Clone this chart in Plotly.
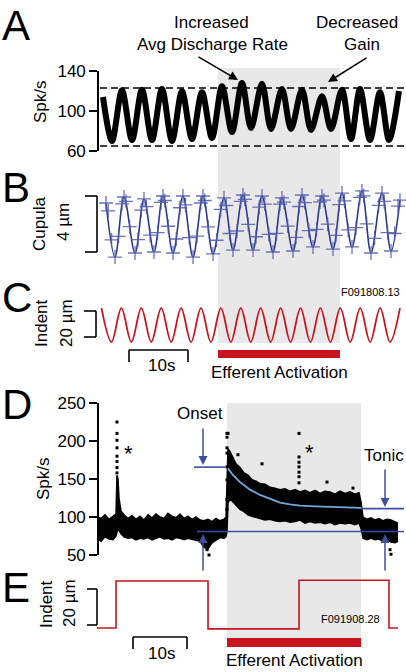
import plotly.graph_objects as go

W, H = 406, 672
FONT = "Liberation Sans, Arial, Helvetica, sans-serif"

# ---------------- data ----------------
# Panel A: discharge rate (Spk/s), peaks & troughs of the sinusoidal response
a_t = [0.25, 1.78, 3.47, 5.17, 6.86, 8.56, 10.25, 11.95, 13.64, 15.34, 17.03, 18.73,
       20.42, 22.12, 23.81, 25.34, 27.20, 28.73, 30.59, 32.12, 33.98, 35.51, 37.37,
       38.90, 40.76, 42.29, 43.81, 45.51, 47.20, 48.73, 50.42]
a_rate = [114, 70, 120.7, 71, 121.3, 71, 122, 70, 119.7, 72, 118.7, 73,
          124.7, 79, 128, 83, 127.3, 82, 122, 82, 121.3, 81, 114.7,
          82, 121.3, 72, 122, 71, 118.7, 71, 120]
a_ref_lines = [123, 65]

# Panel B: cupula displacement (µm) — turning points of the fitted trace
b_t = [0.76, 2.29, 3.81, 5.68, 7.20, 8.90, 10.42, 12.12, 13.81, 15.51, 17.20, 18.90,
       20.76, 22.29, 23.98, 25.68, 27.20, 29.07, 30.59, 32.46, 33.98, 35.85, 37.37,
       39.24, 40.76, 42.46, 44.15, 45.68, 47.54, 49.07, 50.59]
b_um = [3.5, -0.36, 3.93, -0.07, 3.79, 0.0, 4.0, -0.07, 4.0, -0.36, 4.0, -0.14,
        3.86, 0.14, 4.07, 0.14, 4.0, 0.0, 3.86, 0.07, 4.07, 0.36, 4.0,
        0.21, 4.21, 0.36, 4.36, -0.07, 4.21, 0.07, 3.7]
# Panel B: sampled cupula points on the flanks (+ markers)
b_s_t = [1.14, 1.71, 2.90, 3.48, 4.15, 4.78, 6.18, 6.74, 7.63, 8.25, 9.51, 10.09,
         10.73, 11.30, 12.68, 13.30, 14.24, 14.86, 16.19, 16.83, 17.51, 18.08, 19.51, 20.20,
         21.14, 21.71, 22.97, 23.61, 24.29, 24.86, 26.18, 26.74, 27.67, 28.36, 29.68, 30.26,
         30.93, 31.56, 32.96, 33.52, 34.45, 35.14, 36.46, 37.04, 37.71, 38.34, 39.74, 40.30,
         41.19, 41.81, 43.14, 43.78, 44.43, 44.95, 46.29, 46.98, 47.92, 48.49, 49.68, 50.26]
b_s_um = [2.94, 0.86, 1.12, 3.44, 3.62, 1.81, 0.88, 2.99, 3.24, 1.20, 1.38, 3.54,
          3.68, 1.84, 0.93, 3.16, 3.36, 1.02, 1.14, 3.50, 3.68, 1.80, 0.84, 3.04,
          3.32, 1.32, 1.50, 3.62, 3.76, 1.98, 1.09, 3.20, 3.42, 1.26, 1.33, 3.42,
          3.56, 1.85, 1.05, 3.25, 3.53, 1.53, 1.62, 3.58, 3.70, 1.99, 1.19, 3.39,
          3.65, 1.58, 1.74, 3.90, 4.01, 2.01, 0.98, 3.33, 3.61, 1.38, 1.32, 3.28]

# Panel C: sinusoidal indentation (µm)
c_t = [0, 1.69, 3.37, 5.06, 6.75, 8.43, 10.12, 11.81, 13.49, 15.18, 16.86, 18.55,
       20.24, 21.92, 23.61, 25.30, 26.98, 28.67, 30.36, 32.04, 33.73, 35.41, 37.10,
       38.79, 40.47, 42.16, 43.85, 45.53, 47.22, 48.90, 50.59]
c_um = [26, 0, 26, 0, 26, 0, 26, 0, 26, 0, 26, 0, 26, 0, 26, 0, 26, 0, 26, 0,
        26, 0, 26, 0, 26, 0, 26, 0, 26, 0, 26]

# Efferent activation periods (s)
eff_top = [19.75, 40.42]
eff_bot = [24.07, 48.89]

# Panel D: discharge rate envelope (upper / lower edge of the dot cloud)
d_t = [0.00, 0.74, 1.48, 2.22, 2.96, 3.52, 3.70, 3.89, 4.07, 4.44, 5.00, 5.74, 6.48,
       7.22, 7.96, 8.70, 9.44, 10.19, 10.93, 11.67, 12.41, 13.15, 13.89, 14.63,
       15.37, 16.11, 16.85, 17.59, 18.33, 19.07, 19.81, 20.56, 21.30, 22.04, 22.78,
       23.52, 23.89, 24.07, 24.26, 24.63, 25.19, 25.74, 26.48, 27.22, 27.96, 28.70,
       29.44, 30.19, 31.11, 32.04, 32.96, 33.89, 34.81, 35.74, 36.67, 37.59, 38.52,
       39.44, 40.37, 41.30, 42.22, 43.15, 44.07, 45.00, 45.93, 46.85, 47.78, 48.52,
       48.89, 49.26, 50.00, 50.74, 51.48, 52.22, 52.96, 53.70, 54.44, 55.19, 55.74]
d_upper = [100, 98, 103, 97, 101, 104, 155, 150, 125, 108, 103, 98, 102,
           97, 101, 96, 103, 99, 104, 100, 98, 105, 101, 99,
           104, 98, 101, 97, 100, 96, 95, 97, 94, 98, 95,
           97, 100, 150, 190, 186, 178, 170, 165, 158, 155, 149,
           147, 144, 143, 139, 138, 136, 137, 134, 136, 133, 135,
           132, 135, 131, 134, 133, 130, 134, 131, 133, 130, 132,
           120, 100, 97, 99, 96, 98, 95, 97, 96, 94, 92]
d_lower = [72, 68, 74, 71, 70, 75, 80, 85, 82, 78, 74, 72, 73,
           70, 72, 71, 73, 70, 72, 74, 71, 72, 70, 73,
           72, 70, 72, 71, 70, 68, 60, 58, 66, 70, 73,
           72, 74, 80, 118, 124, 120, 115, 110, 107, 103, 101,
           99, 98, 96, 97, 95, 94, 95, 93, 94, 96, 92,
           94, 92, 93, 91, 93, 90, 92, 91, 92, 90, 92,
           85, 72, 70, 72, 70, 71, 68, 70, 67, 66, 68]
# isolated dots outside the cloud
d_dot_t = [3.70, 3.70, 3.70, 3.70, 3.70, 3.70, 3.70, 3.70,
           24.07, 24.07, 24.07, 24.07, 24.07, 24.07, 24.07, 24.07, 24.26,
           37.41, 37.41, 37.41, 37.41, 37.41, 37.41, 37.41,
           26.11, 30.56, 42.59, 47.41, 20.37, 20.74, 54.26, 54.44]
d_dot_rate = [225, 210, 201, 191, 180, 173, 165, 158,
              210, 205, 191, 184, 166, 149, 123, 110, 210,
              210, 179, 172, 166, 159, 153, 145,
              182, 170, 146, 138, 57, 50, 57, 51]
# exponential fit
fit_t = [24.26, 25.19, 26.48, 28.33, 30.19, 32.04, 33.89, 35.74, 37.59, 40.37, 43.15, 45.93, 48.89]
fit_rate = [164, 155, 146, 136, 129, 124, 119, 116.5, 115, 114, 113.5, 112.8, 112]
onset_rate, tonic_rate, base_rate = 165.6, 111, 81

# Panel E: step indentation (µm)
e_t = [0.00, 3.52, 20.56, 37.41, 54.07, 55.74]
e_um = [0, 26.1, -0.5, 26.5, 0, 0]

a_ticks = [60, 100, 140]
d_ticks = [50, 100, 150, 200, 250]

# ---------------- helpers ----------------
def px(x):
    return x / W

def py(y):
    return 1 - y / H

GRAY = "#e8e8e8"
RED = "#c8141e"
BLUE = "#3f4d9e"
NAVY = "#2b3990"

fig = go.Figure()

fig.add_trace(go.Scatter(x=a_t, y=a_rate, mode="lines", xaxis="x", yaxis="y",
                         line=dict(color="black", width=6, shape="spline", smoothing=0.9),
                         hoverinfo="skip"))
fig.add_trace(go.Scatter(x=b_t, y=b_um, mode="lines+markers", xaxis="x", yaxis="y2",
                         line=dict(color=NAVY, width=1.6, shape="spline"),
                         marker=dict(symbol="cross-thin", size=10,
                                     line=dict(color="rgba(80,92,170,0.85)", width=1.3)),
                         hoverinfo="skip"))
fig.add_trace(go.Scatter(x=b_s_t, y=b_s_um, mode="markers", xaxis="x", yaxis="y2",
                         marker=dict(symbol="cross-thin", size=10,
                                     line=dict(color="rgba(80,92,170,0.85)", width=1.3)),
                         hoverinfo="skip"))
fig.add_trace(go.Scatter(x=c_t, y=c_um, mode="lines", xaxis="x", yaxis="y3",
                         line=dict(color=RED, width=1.8, shape="spline"),
                         hoverinfo="skip"))
fig.add_trace(go.Scatter(x=d_t, y=d_upper, mode="lines", xaxis="x2", yaxis="y4",
                         line=dict(color="black", width=1.5), hoverinfo="skip"))
fig.add_trace(go.Scatter(x=d_t, y=d_lower, mode="lines", xaxis="x2", yaxis="y4",
                         fill="tonexty", fillcolor="black",
                         line=dict(color="black", width=1.5), hoverinfo="skip"))
fig.add_trace(go.Scatter(x=d_dot_t, y=d_dot_rate, mode="markers", xaxis="x2", yaxis="y4",
                         marker=dict(symbol="square", size=3, color="black"),
                         cliponaxis=False, hoverinfo="skip"))
fig.add_trace(go.Scatter(x=fit_t, y=fit_rate, mode="lines", xaxis="x2", yaxis="y4",
                         line=dict(color="#6fa8dc", width=1.8), hoverinfo="skip"))
fig.add_trace(go.Scatter(x=e_t, y=e_um, mode="lines", xaxis="x2", yaxis="y5",
                         line=dict(color=RED, width=1.6, shape="hv"), hoverinfo="skip"))

shapes = []
# shaded efferent periods
shapes.append(dict(type="rect", xref="x", yref="paper", x0=eff_top[0], x1=eff_top[1],
                   y0=py(343), y1=py(68), fillcolor=GRAY, line=dict(width=0), layer="below"))
shapes.append(dict(type="rect", xref="x2", yref="paper", x0=eff_bot[0], x1=eff_bot[1],
                   y0=py(638), y1=py(403), fillcolor=GRAY, line=dict(width=0), layer="below"))
# red efferent bars
shapes.append(dict(type="rect", xref="x", yref="paper", x0=eff_top[0], x1=eff_top[1],
                   y0=py(358), y1=py(350), fillcolor=RED, line=dict(width=0)))
shapes.append(dict(type="rect", xref="x2", yref="paper", x0=eff_bot[0], x1=eff_bot[1],
                   y0=py(647), y1=py(638), fillcolor=RED, line=dict(width=0)))
# dashed reference lines in A
for v in a_ref_lines:
    shapes.append(dict(type="line", xref="paper", yref="y", x0=px(100), x1=px(404), y0=v, y1=v,
                       line=dict(color="black", width=1.5, dash="7px,4px")))

def seg(x0, y0, x1, y1, color="black", width=1.6):
    shapes.append(dict(type="line", xref="paper", yref="paper", x0=px(x0), y0=py(y0),
                       x1=px(x1), y1=py(y1), line=dict(color=color, width=width)))

def bracket(x, ytop, ybot, xl):
    seg(x, ytop, x, ybot)
    seg(xl, ytop, x, ytop)
    seg(xl, ybot, x, ybot)

bracket(97, 196, 252, 85)   # B 4 µm
bracket(96, 311, 337, 84)   # C 20 µm
bracket(97, 589, 625, 87)   # E 20 µm

# 10 s scale bars
def timebar(x0, x1, y, ybot):
    seg(x0, y, x1, y)
    seg(x0, y, x0, ybot)
    seg(x1, y, x1, ybot)

timebar(129, 188, 350, 362)
timebar(133, 187, 637, 649)

# blue reference lines in D
for v, x0, x1 in [(onset_rate, 194, 225), (tonic_rate, 361, 404), (base_rate, 197, 404)]:
    shapes.append(dict(type="line", xref="paper", yref="y4", x0=px(x0), x1=px(x1), y0=v, y1=v,
                       line=dict(color=BLUE, width=1.6)))

ann = []

def txt(x, y, s, size=17, angle=0, xanchor="center", yanchor="middle"):
    ann.append(dict(x=px(x), y=py(y), xref="paper", yref="paper", text=s, showarrow=False,
                    font=dict(size=size, family=FONT, color="black"), textangle=angle,
                    xanchor=xanchor, yanchor=yanchor))

def arrow(xt, yt, xs, ys, color, width=1.5, size=1.2):
    ann.append(dict(x=px(xt), y=py(yt), xref="paper", yref="paper", ax=xs - xt, ay=ys - yt,
                    axref="pixel", ayref="pixel", text="", showarrow=True, arrowhead=2,
                    arrowsize=size, arrowwidth=width, arrowcolor=color, standoff=0, startstandoff=0))

# panel letters
txt(0, 0, "A", size=42, xanchor="left", yanchor="top")
for letter, yc in [("B", 187), ("C", 297), ("D", 404), ("E", 587)]:
    txt(0, yc, letter, size=42, xanchor="left")

txt(211, 23, "Increased")
txt(212, 45, "Avg Discharge Rate")
txt(357, 23, "Decreased")
txt(362, 45, "Gain")
arrow(238, 80, 197, 56, "black")
arrow(328, 82, 368, 57, "black")

txt(40, 102, "Spk/s", angle=-90)
txt(40, 224, "Cupula", angle=-90)
txt(64, 222, "4 µm", angle=-90)
txt(370, 292, "F091808.13", size=11)
txt(41, 323, "Indent", angle=-90)
txt(66, 323, "20 µm", angle=-90)
txt(161, 365, "10s")
txt(279.5, 372, "Efferent Activation")

txt(43, 479, "Spk/s", angle=-90)
txt(200, 413, "Onset")
txt(384, 455, "Tonic")
txt(128, 453, "*", size=22)
txt(309, 452, "*", size=22)
arrow(203, 465, 203, 427, BLUE)
arrow(203, 534, 203, 572, BLUE)
arrow(385, 507, 385, 468, BLUE)
arrow(385, 534, 385, 572, BLUE)

txt(46, 604, "Indent", angle=-90)
txt(69, 603, "20 µm", angle=-90)
txt(350, 619, "F091908.28", size=11)
txt(161, 653, "10s")
txt(294, 660, "Efferent Activation")

axis_common = dict(showgrid=False, zeroline=False, fixedrange=True, automargin=False)
vis_y = dict(showline=True, linecolor="black", linewidth=1.6, ticks="outside", ticklen=8,
             tickwidth=1.6, tickcolor="black", tickfont=dict(size=17, family=FONT, color="black"),
             anchor="free", position=px(98), **axis_common)

fig.update_layout(
    width=W, height=H, margin=dict(l=0, r=0, t=0, b=0, pad=0, autoexpand=False),
    paper_bgcolor="white", plot_bgcolor="rgba(0,0,0,0)", showlegend=False,
    xaxis=dict(domain=[0, 1], range=[-17.203, 51.610], visible=False, anchor="y", **axis_common),
    xaxis2=dict(domain=[0, 1], range=[-17.963, 57.222], visible=False, anchor="y4", **axis_common),
    yaxis=dict(domain=[py(151), py(71)], range=[60, 140], tickvals=a_ticks, **vis_y),
    yaxis2=dict(domain=[py(270), py(180)], range=[-1.286, 5.143], visible=False, anchor="x", **axis_common),
    yaxis3=dict(domain=[py(348), py(298)], range=[-4.615, 33.846], visible=False, anchor="x", **axis_common),
    yaxis4=dict(domain=[py(555), py(403)], range=[50, 250], tickvals=d_ticks, **vis_y),
    yaxis5=dict(domain=[py(640), py(570)], range=[-6.667, 32.222], visible=False, anchor="x2", **axis_common),
    shapes=shapes, annotations=ann,
)

fig.write_html("out.html", config={"displayModeBar": False},
               post_script="document.body.style.margin='0';document.body.style.padding='0';"
                           "document.documentElement.style.overflow='hidden';")
